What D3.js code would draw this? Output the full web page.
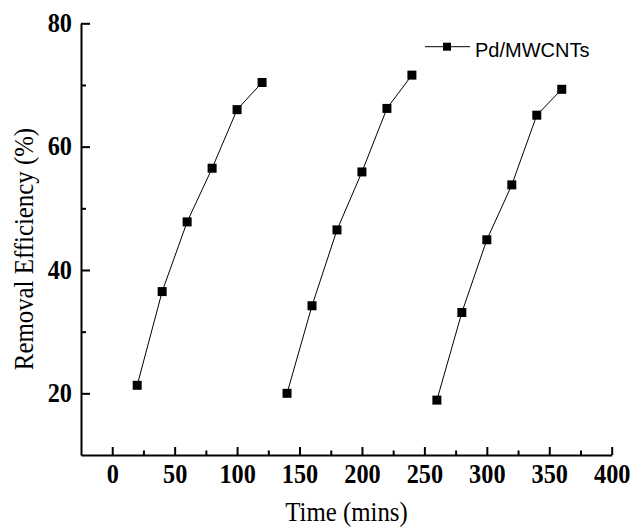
<!DOCTYPE html>
<html>
<head>
<meta charset="utf-8">
<script src="https://d3js.org/d3.v7.min.js"></script>
<style>
  body { margin: 0; background: #fff; }
  svg { display: block; }
</style>
</head>
<body>
<div class="chart_area"></div>
<script>
// data: three successive runs
var timeRun1 = [20, 40, 60, 80, 100, 120];
var effRun1 = [21.3, 36.5, 47.8, 56.5, 66.0, 70.4];
var timeRun2 = [140, 160, 180, 200, 220, 240];
var effRun2 = [20.0, 34.2, 46.5, 55.9, 66.2, 71.6];
var timeRun3 = [260, 280, 300, 320, 340, 360];
var effRun3 = [18.9, 33.1, 44.9, 53.8, 65.1, 69.3];

var xTicks = [0, 50, 100, 150, 200, 250, 300, 350, 400];
var xMinorTicks = [25, 75, 125, 175, 225, 275, 325, 375];
var yTicks = [20, 40, 60, 80];
var yMinorTicks = [30, 50, 70];
var seriesName = "Pd/MWCNTs";

var width = 635, height = 527;

var svg = d3.select(".chart_area")
    .append("svg")
    .attr("width", width)
    .attr("height", height);

var x = d3.scaleLinear()
    .domain([-25, 400])
    .range([81, 611.7]);

var y = d3.scaleLinear()
    .domain([10, 80])
    .range([455, 23.3]);

var serif = "'Liberation Serif', 'Times New Roman', serif";

// x axis (ticks inside)
var x_axis = svg.append("g")
    .attr("transform", "translate(0," + y(10) + ")")
    .call(d3.axisBottom(x).tickValues(xTicks).tickSizeInner(-8).tickSizeOuter(0));

x_axis.selectAll("text")
    .attr("y", 28)
    .attr("dy", null)
    .attr("transform", "scale(0.9,1)")
    .style("text-anchor", "middle")
    .style("font-family", serif)
    .style("font-weight", "bold")
    .style("font-size", "27px")
    .style("fill", "#000");

svg.append("g")
    .attr("transform", "translate(0," + y(10) + ")")
    .call(d3.axisBottom(x).tickValues(xMinorTicks).tickSizeInner(-4.5).tickSizeOuter(0).tickFormat(""))
    .select(".domain").remove();

// y axis
var y_axis = svg.append("g")
    .attr("transform", "translate(" + x(-25) + ",0)")
    .call(d3.axisLeft(y).tickValues(yTicks).tickSizeInner(-9).tickSizeOuter(0));

y_axis.selectAll("text")
    .attr("x", -10)
    .attr("dy", "0.3em")
    .attr("transform", "scale(0.9,1)")
    .style("text-anchor", "end")
    .style("font-family", serif)
    .style("font-weight", "bold")
    .style("font-size", "27px")
    .style("fill", "#000");

svg.append("g")
    .attr("transform", "translate(" + x(-25) + ",0)")
    .call(d3.axisLeft(y).tickValues(yMinorTicks).tickSizeInner(-5).tickSizeOuter(0).tickFormat(""))
    .select(".domain").remove();

svg.selectAll(".domain").style("stroke", "#000").style("stroke-width", 2);
svg.selectAll(".tick line").style("stroke", "#000").style("stroke-width", 2);

// axis titles
svg.append("text")
    .attr("transform", "translate(346.5,521) scale(0.92,1)")
    .attr("text-anchor", "middle")
    .style("font-family", serif)
    .style("font-size", "27px")
    .text("Time (mins)");

svg.append("text")
    .attr("transform", "translate(33,249) rotate(-90) scale(0.92,1)")
    .attr("text-anchor", "middle")
    .style("font-family", serif)
    .style("font-size", "27px")
    .text("Removal Efficiency (%)");

// lines + markers, one segment per run
var runs = [
    d3.zip(timeRun1, effRun1),
    d3.zip(timeRun2, effRun2),
    d3.zip(timeRun3, effRun3)
];

var line = d3.line()
    .x(function(d) { return x(d[0]); })
    .y(function(d) { return y(d[1]); });

svg.selectAll(".run_line")
    .data(runs)
    .enter()
    .append("path")
    .attr("class", "run_line")
    .attr("d", line)
    .attr("fill", "none")
    .attr("stroke", "#000")
    .attr("stroke-width", 1);

var ms = 9;
svg.selectAll(".marker")
    .data(d3.merge(runs))
    .enter()
    .append("rect")
    .attr("class", "marker")
    .attr("x", function(d) { return x(d[0]) - ms / 2; })
    .attr("y", function(d) { return y(d[1]) - ms / 2; })
    .attr("width", ms)
    .attr("height", ms)
    .attr("fill", "#000");

// legend
var legend = svg.append("g").attr("transform", "translate(425,46.7)");
legend.append("line")
    .attr("x1", 0).attr("x2", 45)
    .attr("stroke", "#000").attr("stroke-width", 1);
legend.append("rect")
    .attr("x", 22 - 4).attr("y", -4)
    .attr("width", 8).attr("height", 8)
    .attr("fill", "#000");
legend.append("text")
    .attr("x", 50)
    .attr("y", 9.8)
    .style("font-family", "'Liberation Sans', Arial, sans-serif")
    .style("font-size", "20px")
    .text(seriesName);
</script>
</body>
</html>
